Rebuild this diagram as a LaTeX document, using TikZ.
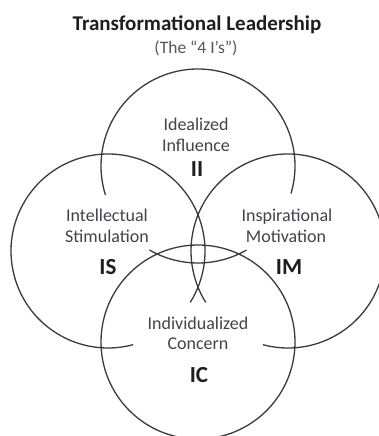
\documentclass[tikz,border=0pt]{standalone}
\usepackage{fontspec}
\setmainfont{Carlito}
\definecolor{ringcol}{HTML}{3A3A3A}
\definecolor{bodycol}{HTML}{45404C}
\definecolor{subcol}{HTML}{555555}
\definecolor{titlecol}{HTML}{1E1E1E}
\begin{document}
\begin{tikzpicture}[x=1pt,y=1pt,
  ring/.style={draw=ringcol,line width=1.3pt},
  body/.style={anchor=base,inner sep=0pt,text=bodycol,font=\fontsize{18}{20}\selectfont},
  abbr/.style={anchor=base,inner sep=0pt,text=titlecol,font=\bfseries\fontsize{23}{26}\selectfont},
  titletext/.style={anchor=base,inner sep=0pt,text=titlecol,font=\bfseries\fontsize{21}{24}\selectfont},
  subtext/.style={anchor=base,inner sep=0pt,text=subcol,font=\fontsize{17.5}{20}\selectfont}]
\useasboundingbox (0,0) rectangle (379,436);
% circle centres
\coordinate (cII) at (198,270);
\coordinate (cIS) at (108,185);
\coordinate (cIM) at (288,185);
\coordinate (cIC) at (198,94);
% circles (partly drawn)
\draw[ring] (cII) ++(-16.5:97) arc[start angle=-16.5,end angle=197.3,radius=97];
\draw[ring] (cII) ++(240:97) arc[start angle=240,end angle=300,radius=97];
\draw[ring] (cIS) ++(-32:97) arc[start angle=-32,end angle=285,radius=97];
\draw[ring] (cIM) ++(-105:97) arc[start angle=-105,end angle=212,radius=97];
\draw[ring] (cIC) circle[radius=97];
% title
\node[titletext] (title) at (197,405) {Transformational Leadership};
\node[subtext] (subtitle) at (196,382) {(The “4 I’s”)};
% Idealized Influence
\node[body] (ii1) at (196,305) {Idealized};
\node[body] (ii2) at (196,284) {Influence};
\node[abbr] (ii3) at (197,259) {II};
% Intellectual Stimulation
\node[body] (is1) at (107,214) {Intellectual};
\node[body] (is2) at (107,193) {Stimulation};
\node[abbr] (is3) at (108,161) {IS};
% Inspirational Motivation
\node[body] (im1) at (287,214) {Inspirational};
\node[body] (im2) at (286,193) {Motivation};
\node[abbr] (im3) at (289,161) {IM};
% Individualized Concern
\node[body] (ic1) at (198,106) {Individualized};
\node[body] (ic2) at (198,86) {Concern};
\node[abbr] (ic3) at (199,53) {IC};
\end{tikzpicture}
\end{document}
